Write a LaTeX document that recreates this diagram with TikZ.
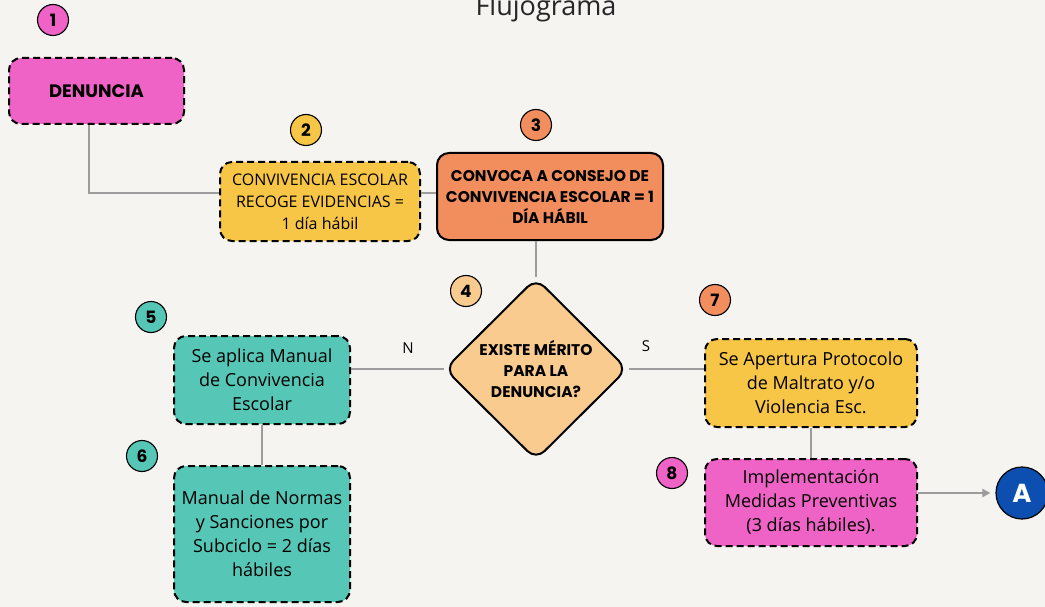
\documentclass[tikz,border=0pt]{standalone}
\usepackage{fontspec}
\setmainfont{Open Sans}
\newfontfamily\heavyfont{Poppins}
\usetikzlibrary{shapes.geometric,arrows.meta}
\definecolor{bgc}{HTML}{F5F4F1}
\definecolor{pinkc}{HTML}{EE63C5}
\definecolor{yelc}{HTML}{F8C646}
\definecolor{orac}{HTML}{F28D5E}
\definecolor{lorc}{HTML}{FACB8E}
\definecolor{teac}{HTML}{56C7B6}
\definecolor{bluec}{HTML}{0D4FB0}
\definecolor{linec}{HTML}{9C9C9C}
\tikzset{
  box/.style={draw=black, line width=2pt, rounded corners=12pt, inner sep=2pt, align=center},
  dbox/.style={box, dash pattern=on 7pt off 4pt},
  num/.style={circle, draw=black, line width=1.1pt, minimum size=31pt, inner sep=0pt, font=\heavyfont\bfseries\fontsize{17}{17}\selectfont},
  conn/.style={draw=linec, line width=2pt},
  reg/.style={font=\fontsize{16}{22}\selectfont},
  big/.style={font=\fontsize{18}{24}\selectfont},
  bold/.style={font=\heavyfont\bfseries\fontsize{15.5}{21}\selectfont},
}
\begin{document}
\begin{tikzpicture}[x=1pt,y=-1pt]
\fill[bgc] (0,0) rectangle (1045,607);
\useasboundingbox (0,0) rectangle (1045,607);

\node[anchor=base, font=\fontsize{27}{27}\selectfont, text=black!85] (title) at (546,16) {Flujograma};

% boxes
\node[dbox, fill=pinkc, minimum width=175pt, minimum height=66pt, font=\heavyfont\bfseries\fontsize{18}{18}\selectfont] (b1) at (96.5,91) {DENUNCIA};
\node[dbox, fill=yelc, minimum width=200pt, minimum height=79pt, reg] (b2) at (320,201.5) {CONVIVENCIA ESCOLAR\\RECOGE EVIDENCIAS =\\1 día hábil};
\node[box, fill=orac, minimum width=226pt, minimum height=87pt, bold] (b3) at (550,196.5) {CONVOCA A CONSEJO DE\\CONVIVENCIA ESCOLAR = 1\\DÍA HÁBIL};
\node[diamond, draw=black, line width=2pt, rounded corners=12pt, fill=lorc, minimum width=183pt, minimum height=182pt, inner sep=0pt, align=center, bold] (d) at (536,369) {EXISTE MÉRITO\\PARA LA\\DENUNCIA?};
\node[dbox, fill=teac, minimum width=176pt, minimum height=88pt, big] (b5) at (262,380) {Se aplica Manual\\de Convivencia\\Escolar};
\node[dbox, fill=teac, minimum width=176pt, minimum height=136pt, big] (b6) at (262,534) {Manual de Normas\\y Sanciones por\\Subciclo = 2 días\\hábiles};
\node[dbox, fill=yelc, minimum width=212pt, minimum height=88pt, big] (b7) at (811,383) {Se Apertura Protocolo\\de Maltrato y/o\\Violencia Esc.};
\node[dbox, fill=pinkc, minimum width=212pt, minimum height=87pt, big] (b8) at (811,502.5) {Implementación\\Medidas Preventivas\\(3 días hábiles).};
\node[circle, draw=black, line width=1.2pt, fill=bluec, minimum size=52pt, inner sep=0pt, text=white, font=\heavyfont\bfseries\fontsize{26}{26}\selectfont] (A) at (1022,493) {A};

% number circles
\node[num, fill=pinkc] (n1) at (53,20) {1};
\node[num, fill=yelc] (n2) at (306,130) {2};
\node[num, fill=orac] (n3) at (536,125) {3};
\node[num, fill=lorc] (n4) at (466,291) {4};
\node[num, fill=teac] (n5) at (151,317) {5};
\node[num, fill=teac] (n6) at (142,456) {6};
\node[num, fill=orac] (n7) at (715,300) {7};
\node[num, fill=pinkc] (n8) at (672,473) {8};

% labels
\node[font=\fontsize{15}{15}\selectfont] (lN) at (408,348) {N};
\node[font=\fontsize{15}{15}\selectfont] (lS) at (646,346) {S};

% connectors
\draw[conn] ([xshift=-7.5pt]b1.south) |- ([yshift=8.5pt]b2.west);
\draw[conn] ([yshift=8.5pt]b2.east) -- ([yshift=8.5pt]b2.east -| b3.west);
\draw[conn] (d.north) -- (d.north |- b3.south);
\draw[conn] (d.west) -- (d.west -| b5.east);
\draw[conn] (d.east) -- (d.east -| b7.west);
\draw[conn] (b5.south) -- (b6.north);
\draw[conn] (b7.south) -- (b8.north);
\draw[conn, -{Triangle[length=8pt,width=8pt]}, shorten >=5pt] (b8.east |- A.west) -- (A.west);
\end{tikzpicture}
\end{document}
